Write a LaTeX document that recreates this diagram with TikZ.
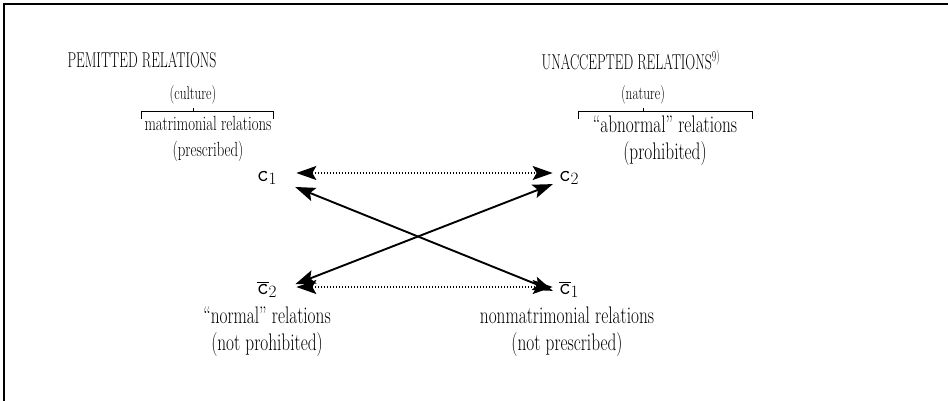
\documentclass[tikz,border=0pt]{standalone}
\usepackage{fontspec}
\setmainfont{Latin Modern Roman}[FakeStretch=0.72]
\newfontfamily\headfont{Latin Modern Roman}[FakeStretch=0.64]
\usetikzlibrary{arrows.meta}
\tikzset{
  head/.style={font=\headfont\fontsize{21.5}{24}\selectfont},
  small/.style={font=\fontsize{18.5}{20}\selectfont},
  txt/.style={font=\fontsize{20.5}{26}\selectfont, align=center},
  bigtxt/.style={txt, font=\fontsize{24}{27}\selectfont},
  sym/.style={font=\fontsize{23}{26}\selectfont, inner xsep=3pt, inner ysep=3pt},
  rel/.style={{Stealth[length=20pt,width=14pt,inset=4pt]}-{Stealth[length=20pt,width=14pt,inset=4pt]},
    line width=1.9pt, shorten <=16pt, shorten >=3pt},
  dotrel/.style={rel, line width=1.5pt, dash pattern=on 1.5pt off 1.5pt}
}
\begin{document}
\begin{tikzpicture}[x=1pt,y=-1pt]
  \useasboundingbox (0,0) rectangle (948,401);
  \draw[line width=1.6pt] (948,4) -- (4,4) -- (4,401);
  % headings
  \node[head] (perm) at (142,60) {PEMITTED RELATIONS};
  \node[head] (unacc) at (631,60) {UNACCEPTED RELATIONS\textsuperscript{9)}};
  \node[small] (cult) at (193,95) {(culture)};
  \node[small] (nat) at (643,95) {(nature)};
  % brackets
  \coordinate (bl1) at (141,111); \coordinate (br1) at (273,111);
  \coordinate (bl2) at (578,111); \coordinate (br2) at (752,111);
  \draw[line width=0.8pt] (bl1) ++(0,8) -- (bl1) -- (br1) -- ++(0,8);
  \draw[line width=0.8pt] (bl2) ++(0,8) -- (bl2) -- (br2) -- ++(0,8);
  \draw[line width=0.8pt] (cult) -- (cult |- bl1);
  \draw[line width=0.8pt] (nat) -- (nat |- bl2);
  \node[txt] (matr) at (208,139) {matrimonial relations\\(prescribed)};
  \node[bigtxt] (abn) at (665,141) {“abnormal” relations\\(prohibited)};
  % the four terms
  \node[sym] (c1) at (267,178) {$\mathtt{c}_1$};
  \node[sym] (c2) at (569,178) {$\mathtt{c}_2$};
  \node[sym] (nc2) at (267,290) {$\overline{\mathtt{c}}_2$};
  \node[sym] (nc1) at (569,290) {$\overline{\mathtt{c}}_1$};
  \draw[dotrel] ([yshift=5pt]c1.east) -- ([yshift=5pt]c2.west);
  \draw[dotrel] ([yshift=3pt]nc2.east) -- ([yshift=3pt]nc1.west);
  \draw[rel] ([yshift=-3pt]c1.east) -- ([yshift=-2pt]nc1.west);
  \draw[rel] ([yshift=0pt]nc2.east) -- ([yshift=-5pt]c2.west);
  \node[bigtxt] (norm) at (267,332) {“normal” relations\\(not prohibited)};
  \node[bigtxt] (nonm) at (567,332) {nonmatrimonial relations\\(not prescribed)};
\end{tikzpicture}
\end{document}
